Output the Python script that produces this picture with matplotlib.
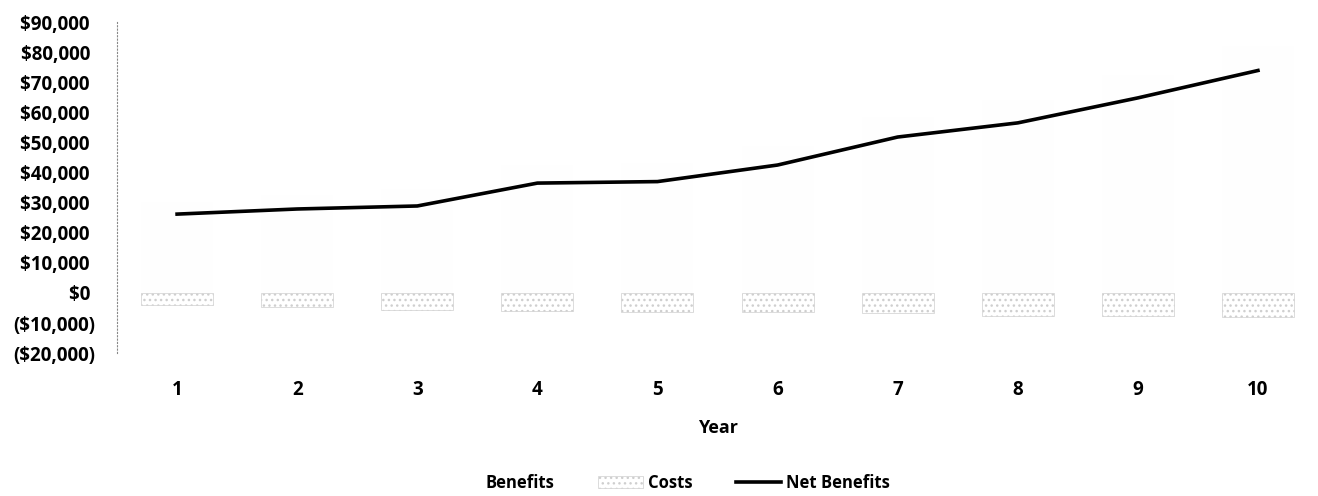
import matplotlib.pyplot as plt
from matplotlib.ticker import FuncFormatter
from matplotlib.patches import Patch
from matplotlib.lines import Line2D

# valeurs
annees = [1, 2, 3, 4, 5, 6, 7, 8, 9, 10]
couts = [-4000, -4500, -5600, -6000, -6200, -6200, -6600, -7600, -7600, -8000]
net = [26200, 27900, 28900, 36500, 37000, 42500, 51800, 56500, 64800, 73900]
benefices = [n - c for n, c in zip(net, couts)]

plt.rcParams['font.family'] = ['Open Sans', 'DejaVu Sans']
plt.rcParams['hatch.color'] = '#c4c4c4'

def dollars(v, pos):
    # format comptable : espace à droite pour les positifs
    if v < 0:
        return '(${:,.0f})'.format(-v)
    return '${:,.0f} '.format(v)

fig = plt.figure(figsize=(13.18, 4.96), dpi=100)
ax = fig.add_axes([0.0888, 0.2879, 0.9112, 0.6677])

# barres des bénéfices : blanches sur le scan
ax.bar(annees, benefices, width=0.6, color='#fefefe', edgecolor='none', zorder=1)
# barres des coûts : motif pointillé très léger
ax.bar(annees, couts, width=0.6, color='white', edgecolor='#cfcfcf',
       hatch='...', linewidth=0.5, zorder=2)
ax.plot(annees, net, color='black', linewidth=2.6, zorder=3)

ax.set_xlim(0.5, 10.5)
ax.set_ylim(-20000, 90000)
ax.set_yticks(range(-20000, 90001, 10000))
ax.yaxis.set_major_formatter(FuncFormatter(dollars))
ax.set_xticks(annees)

for s in ['top', 'right', 'bottom']:
    ax.spines[s].set_visible(False)
ax.spines['left'].set_color('#888888')
ax.spines['left'].set_linewidth(0.8)
ax.spines['left'].set_linestyle((0, (1, 2)))

ax.tick_params(axis='y', length=0, pad=16, labelsize=13.5)
ax.tick_params(axis='x', length=0, pad=19, labelsize=13.5)
for t in ax.get_xticklabels() + ax.get_yticklabels():
    t.set_fontweight('bold')

ax.set_xlabel('Year', fontsize=13, fontweight='bold', labelpad=14)

poignees = [
    Patch(facecolor='white', edgecolor='none', label='Benefits'),
    Patch(facecolor='white', edgecolor='#cfcfcf', hatch='...', linewidth=0.5, label='Costs'),
    Line2D([0], [0], color='black', linewidth=2.6, label='Net Benefits'),
]
leg = fig.legend(handles=poignees, loc='center', bbox_to_anchor=(0.503, 0.026),
                 ncol=3, frameon=False, fontsize=12, columnspacing=2.6,
                 handlelength=2.7, handletextpad=0.3)
for t in leg.get_texts():
    t.set_fontweight('bold')

fig.savefig('out.png', dpi=100, facecolor='white')
